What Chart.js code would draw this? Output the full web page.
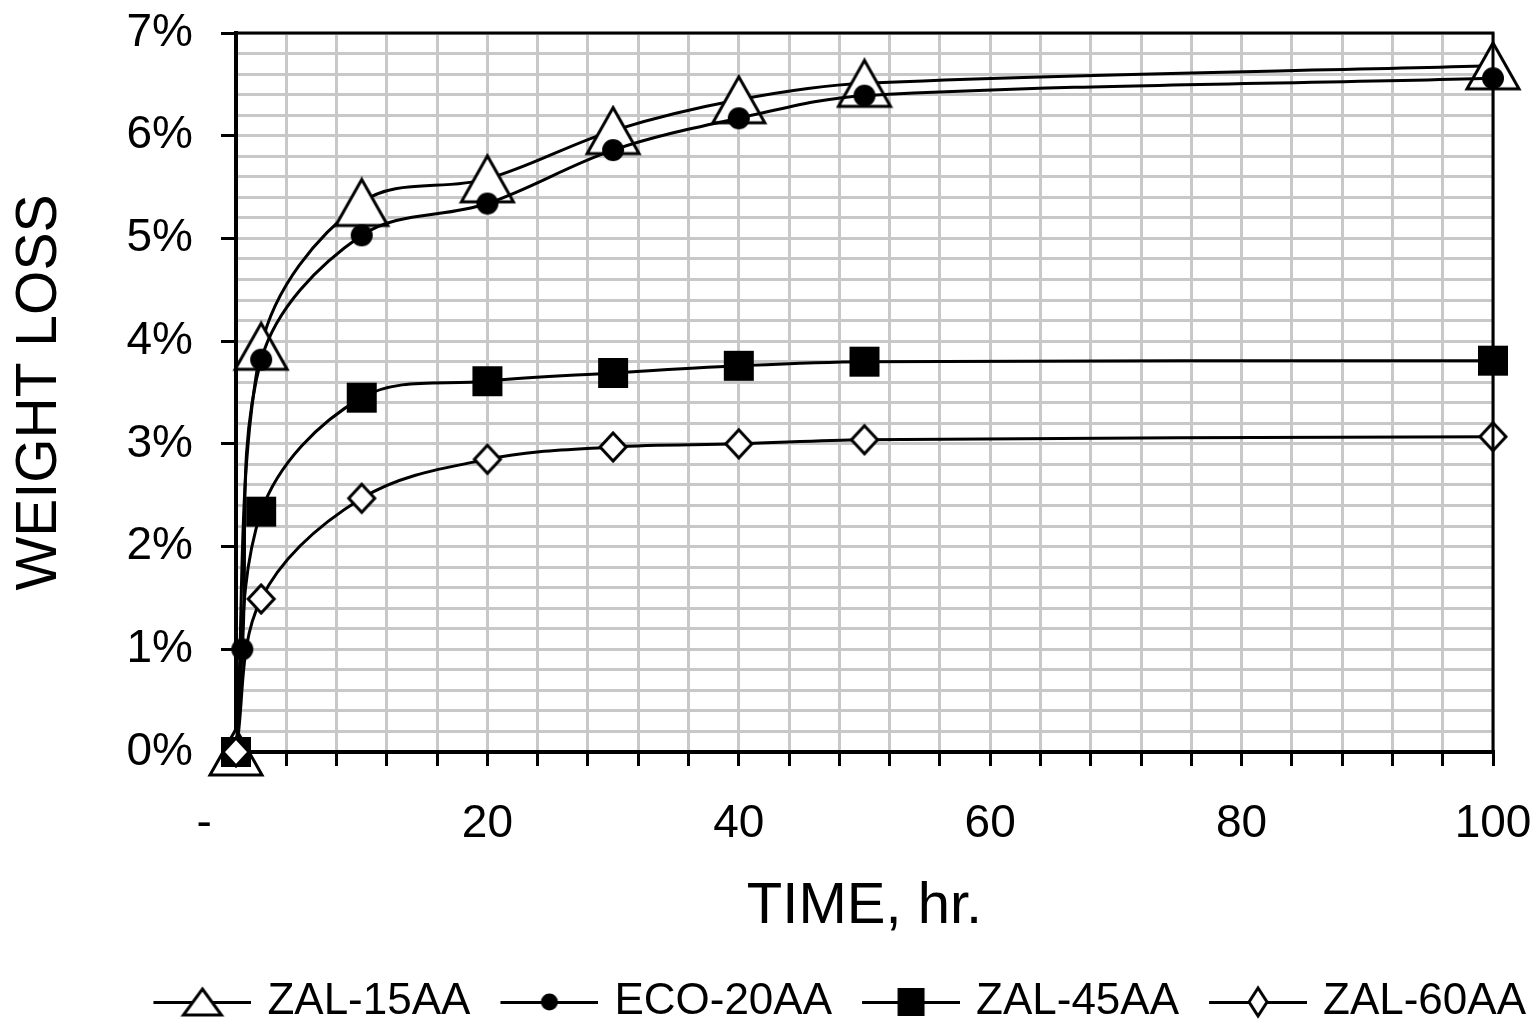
<!DOCTYPE html>
<html>
<head>
<meta charset="utf-8">
<script src="https://cdn.jsdelivr.net/npm/chart.js@4.4.0/dist/chart.umd.min.js"></script>
<style>
  html, body { margin: 0; padding: 0; background: #fff; overflow: hidden; }
  #wrap { width: 1536px; height: 1024px; }
</style>
</head>
<body>
<div id="wrap"><canvas id="chart"></canvas></div>
<script>
// time points (hr) and weight loss (%)
const hours = [0, 0.5, 2, 10, 20, 30, 40, 50, 100];
const zal15 = [0, null, 3.95, 5.35, 5.58, 6.05, 6.35, 6.51, 6.68];
const eco20 = [0, 1.0, 3.82, 5.03, 5.34, 5.86, 6.17, 6.39, 6.56];
const zal45 = [0, null, 2.34, 3.45, 3.61, 3.69, 3.76, 3.80, 3.81];
const zal60 = [0, null, 1.49, 2.47, 2.85, 2.97, 3.00, 3.04, 3.07];
const seriesNames = ['ZAL-15AA', 'ECO-20AA', 'ZAL-45AA', 'ZAL-60AA'];

const FONT = "'Liberation Sans', Arial, sans-serif";
Chart.defaults.font.family = FONT;
Chart.defaults.color = '#000';

function drawMarker(ctx, shape, cx, cy, w, h) {
    ctx.lineWidth = 3;
    ctx.strokeStyle = '#000';
    ctx.fillStyle = '#000';
    ctx.beginPath();
    if (shape === 'triangle') {
        ctx.moveTo(cx, cy - h / 2);
        ctx.lineTo(cx + w / 2, cy + h / 2);
        ctx.lineTo(cx - w / 2, cy + h / 2);
        ctx.closePath();
        ctx.fillStyle = '#fff';
        ctx.fill();
        ctx.stroke();
    } else if (shape === 'circle') {
        ctx.arc(cx, cy, w / 2, 0, Math.PI * 2);
        ctx.fill();
    } else if (shape === 'square') {
        ctx.rect(cx - w / 2, cy - h / 2, w, h);
        ctx.fill();
    } else if (shape === 'diamond') {
        ctx.moveTo(cx, cy - h / 2);
        ctx.lineTo(cx + w / 2, cy);
        ctx.lineTo(cx, cy + h / 2);
        ctx.lineTo(cx - w / 2, cy);
        ctx.closePath();
        ctx.fillStyle = '#fff';
        ctx.fill();
        ctx.stroke();
    }
}

function pointCanvas(shape, w, h) {
    const c = document.createElement('canvas');
    c.width = w + 6;
    c.height = h + 6;
    drawMarker(c.getContext('2d'), shape, c.width / 2, c.height / 2, w, h);
    return c;
}

// legend symbol: line with the marker in the middle
function legendCanvas(shape, w, h) {
    const c = document.createElement('canvas');
    c.width = 124;
    c.height = 40;
    const ctx = c.getContext('2d');
    ctx.fillStyle = '#000';
    ctx.fillRect(26, 19, 98, 3);
    drawMarker(ctx, shape, 75, 20, w, h);
    return c;
}

const markers = [
    { shape: 'triangle', w: 52, h: 46, lw: 38, lh: 26 },
    { shape: 'circle', w: 22, h: 22, lw: 17, lh: 17 },
    { shape: 'square', w: 30, h: 30, lw: 27, lh: 28 },
    { shape: 'diamond', w: 26, h: 28, lw: 18, lh: 28 },
];
const values = [zal15, eco20, zal45, zal60];
const legendIcons = markers.map(m => legendCanvas(m.shape, m.lw, m.lh));

const datasets = seriesNames.map((name, i) => ({
    label: name,
    data: hours.map((h, j) => ({ x: h, y: values[i][j] })),
    borderColor: '#000',
    borderWidth: 3,
    pointStyle: pointCanvas(markers[i].shape, markers[i].w, markers[i].h),
    pointRadius: 4,
    tension: 0.35,
    spanGaps: true,
    clip: false,
    order: 4 - i,
}));

const isWhole = v => Math.abs(v - Math.round(v)) < 1e-6;

const plotFrame = {
    id: 'plotFrame',
    afterDatasetsDraw(chart) {
        const { ctx, chartArea: a } = chart;
        ctx.save();
        ctx.strokeStyle = '#000';
        ctx.lineWidth = 3;
        ctx.beginPath();
        ctx.moveTo(a.left, a.top);
        ctx.lineTo(a.right, a.top);
        ctx.lineTo(a.right, a.bottom);
        ctx.stroke();
        ctx.restore();
    }
};

new Chart(document.getElementById('chart'), {
    type: 'line',
    data: { datasets: datasets },
    options: {
        responsive: true,
        maintainAspectRatio: false,
        animation: false,
        layout: { padding: { left: 0, right: 0, top: 33, bottom: -10 } },
        plugins: {
            tooltip: { enabled: false },
            legend: {
                position: 'bottom',
                align: 'end',
                labels: {
                    usePointStyle: true,
                    pointStyleWidth: 112,
                    padding: 10,
                    color: '#000',
                    font: { size: 44 },
                    generateLabels: chart => chart.data.datasets.map((ds, i) => ({
                        text: ds.label,
                        pointStyle: legendIcons[i],
                        datasetIndex: i,
                        fontColor: '#000',
                        lineWidth: 0,
                        strokeStyle: 'transparent',
                        fillStyle: 'transparent',
                        hidden: false,
                    })),
                },
            },
        },
        scales: {
            x: {
                type: 'linear',
                min: 0,
                max: 100,
                ticks: {
                    stepSize: 4,
                    autoSkip: false,
                    maxRotation: 0,
                    padding: 31,
                    font: { size: 46 },
                    callback: v => v === 0 ? '-     ' : (v % 20 === 0 ? String(v) : ''),
                },
                grid: { color: '#c8c8c8', lineWidth: 3, tickLength: 14, tickColor: '#000', tickWidth: 3 },
                border: { color: '#000', width: 4 },
                title: { display: true, text: 'TIME, hr.', font: { size: 58 }, padding: { top: 0, bottom: 28 } },
                afterFit: s => { s.height = 218; s.paddingLeft = 0; s.paddingRight = 0; },
            },
            y: {
                min: 0,
                max: 7,
                ticks: {
                    stepSize: 0.2,
                    autoSkip: false,
                    padding: 28,
                    font: { size: 46 },
                    callback: v => isWhole(v) ? Math.round(v) + '%' : '',
                },
                grid: {
                    color: '#c8c8c8',
                    lineWidth: 3,
                    tickLength: 15,
                    tickWidth: 3,
                    tickColor: c => (c.tick && isWhole(c.tick.value)) ? '#000' : 'rgba(0,0,0,0)',
                },
                border: { color: '#000', width: 4 },
                title: { display: true, text: 'WEIGHT LOSS', font: { size: 57 }, padding: { top: 6, bottom: 0 } },
                afterFit: s => { s.width = 236; s.paddingTop = 0; s.paddingBottom = 0; },
            },
            y2: {
                position: 'right',
                display: true,
                min: 0,
                max: 7,
                grid: { display: false, drawTicks: false },
                ticks: { display: false },
                border: { display: false },
                afterFit: s => { s.width = 43; s.paddingTop = 0; s.paddingBottom = 0; },
            },
        },
    },
    plugins: [plotFrame],
});
</script>
</body>
</html>
